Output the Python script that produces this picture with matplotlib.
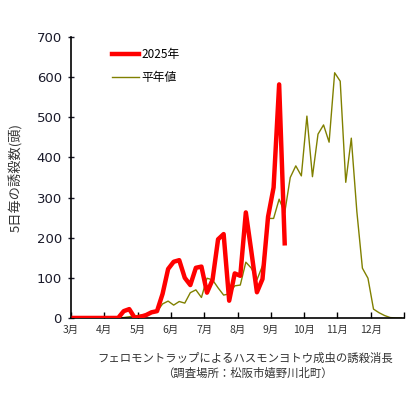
import numpy as np
import matplotlib
matplotlib.use('Agg')
import matplotlib.pyplot as plt

plt.rcParams['font.family'] = ['Noto Sans CJK JP', 'DejaVu Sans']

# 5-day periods from March 1 to end of December (6 per month)
months = ['3月', '4月', '5月', '6月', '7月', '8月', '9月', '10月', '11月', '12月']

y2025 = [0, 0, 0, 0, 0, 0, 0, 0, 0, 17,
         22, 0, 3, 7, 14, 17, 60, 122, 140, 144,
         100, 82, 125, 128, 63, 95, 196, 209, 43, 111,
         105, 263, 165, 64, 97, 252, 325, 582, 186]

normal = [np.nan] * 6 + [0, 0, 0, 1,
          3, 5, 7, 9, 12, 16, 35, 42, 32, 41,
          37, 63, 70, 51, 99, 95, 75, 57, 60, 80,
          82, 139, 124, 95, 130, 248, 248, 296, 262, 350,
          379, 354, 503, 352, 458, 481, 438, 611, 590, 338,
          448, 265, 124, 99, 22, 13, 6, 1, 0, 0]

fig = plt.figure(figsize=(4.2, 3.94), dpi=100)
ax = fig.add_axes([0.169, 0.193, 0.793, 0.713])

x1 = np.arange(len(y2025)) + 0.5
x2 = np.arange(len(normal)) + 0.5
ax.plot(x1, y2025, color='#ff0000', lw=3.2, label='2025年', zorder=3)
ax.plot(x2, normal, color='#808000', lw=1.0, label='平年値', zorder=2)

ax.set_xlim(0, 60)
ax.set_ylim(0, 700)
ax.set_xticks(np.arange(0, 61, 6))
ax.set_xticklabels(months + [''], fontsize=7.5, color='#333333')
ax.set_yticks(np.arange(0, 701, 100))
for lab in ax.get_yticklabels():
    lab.set_fontfamily('DejaVu Sans')
ax.tick_params(axis='y', labelsize=9.5, colors='#1a1a2a', direction='inout', length=5, width=1, pad=4)
ax.tick_params(axis='x', direction='in', length=4, width=1, pad=5)
ax.spines['top'].set_visible(False)
ax.spines['right'].set_visible(False)
ax.spines['left'].set_linewidth(1.2)
ax.spines['bottom'].set_linewidth(1.2)

ax.set_ylabel('5日毎の誘殺数(頭)', fontsize=9.5, color='#333333', labelpad=10)

ax.legend(loc='upper left', bbox_to_anchor=(0.09, 1.0), frameon=False,
          fontsize=8.5, handlelength=2.3, handletextpad=0.2, labelspacing=0.9)

fig.text(0.583, 0.09, 'フェロモントラップによるハスモンヨトウ成虫の誘殺消長',
         ha='center', va='center', fontsize=8.2, color='#333333')
fig.text(0.59, 0.052, '（調査場所：松阪市嬉野川北町）',
         ha='center', va='center', fontsize=8.2, color='#333333')

fig.savefig('out.png', dpi=100)
